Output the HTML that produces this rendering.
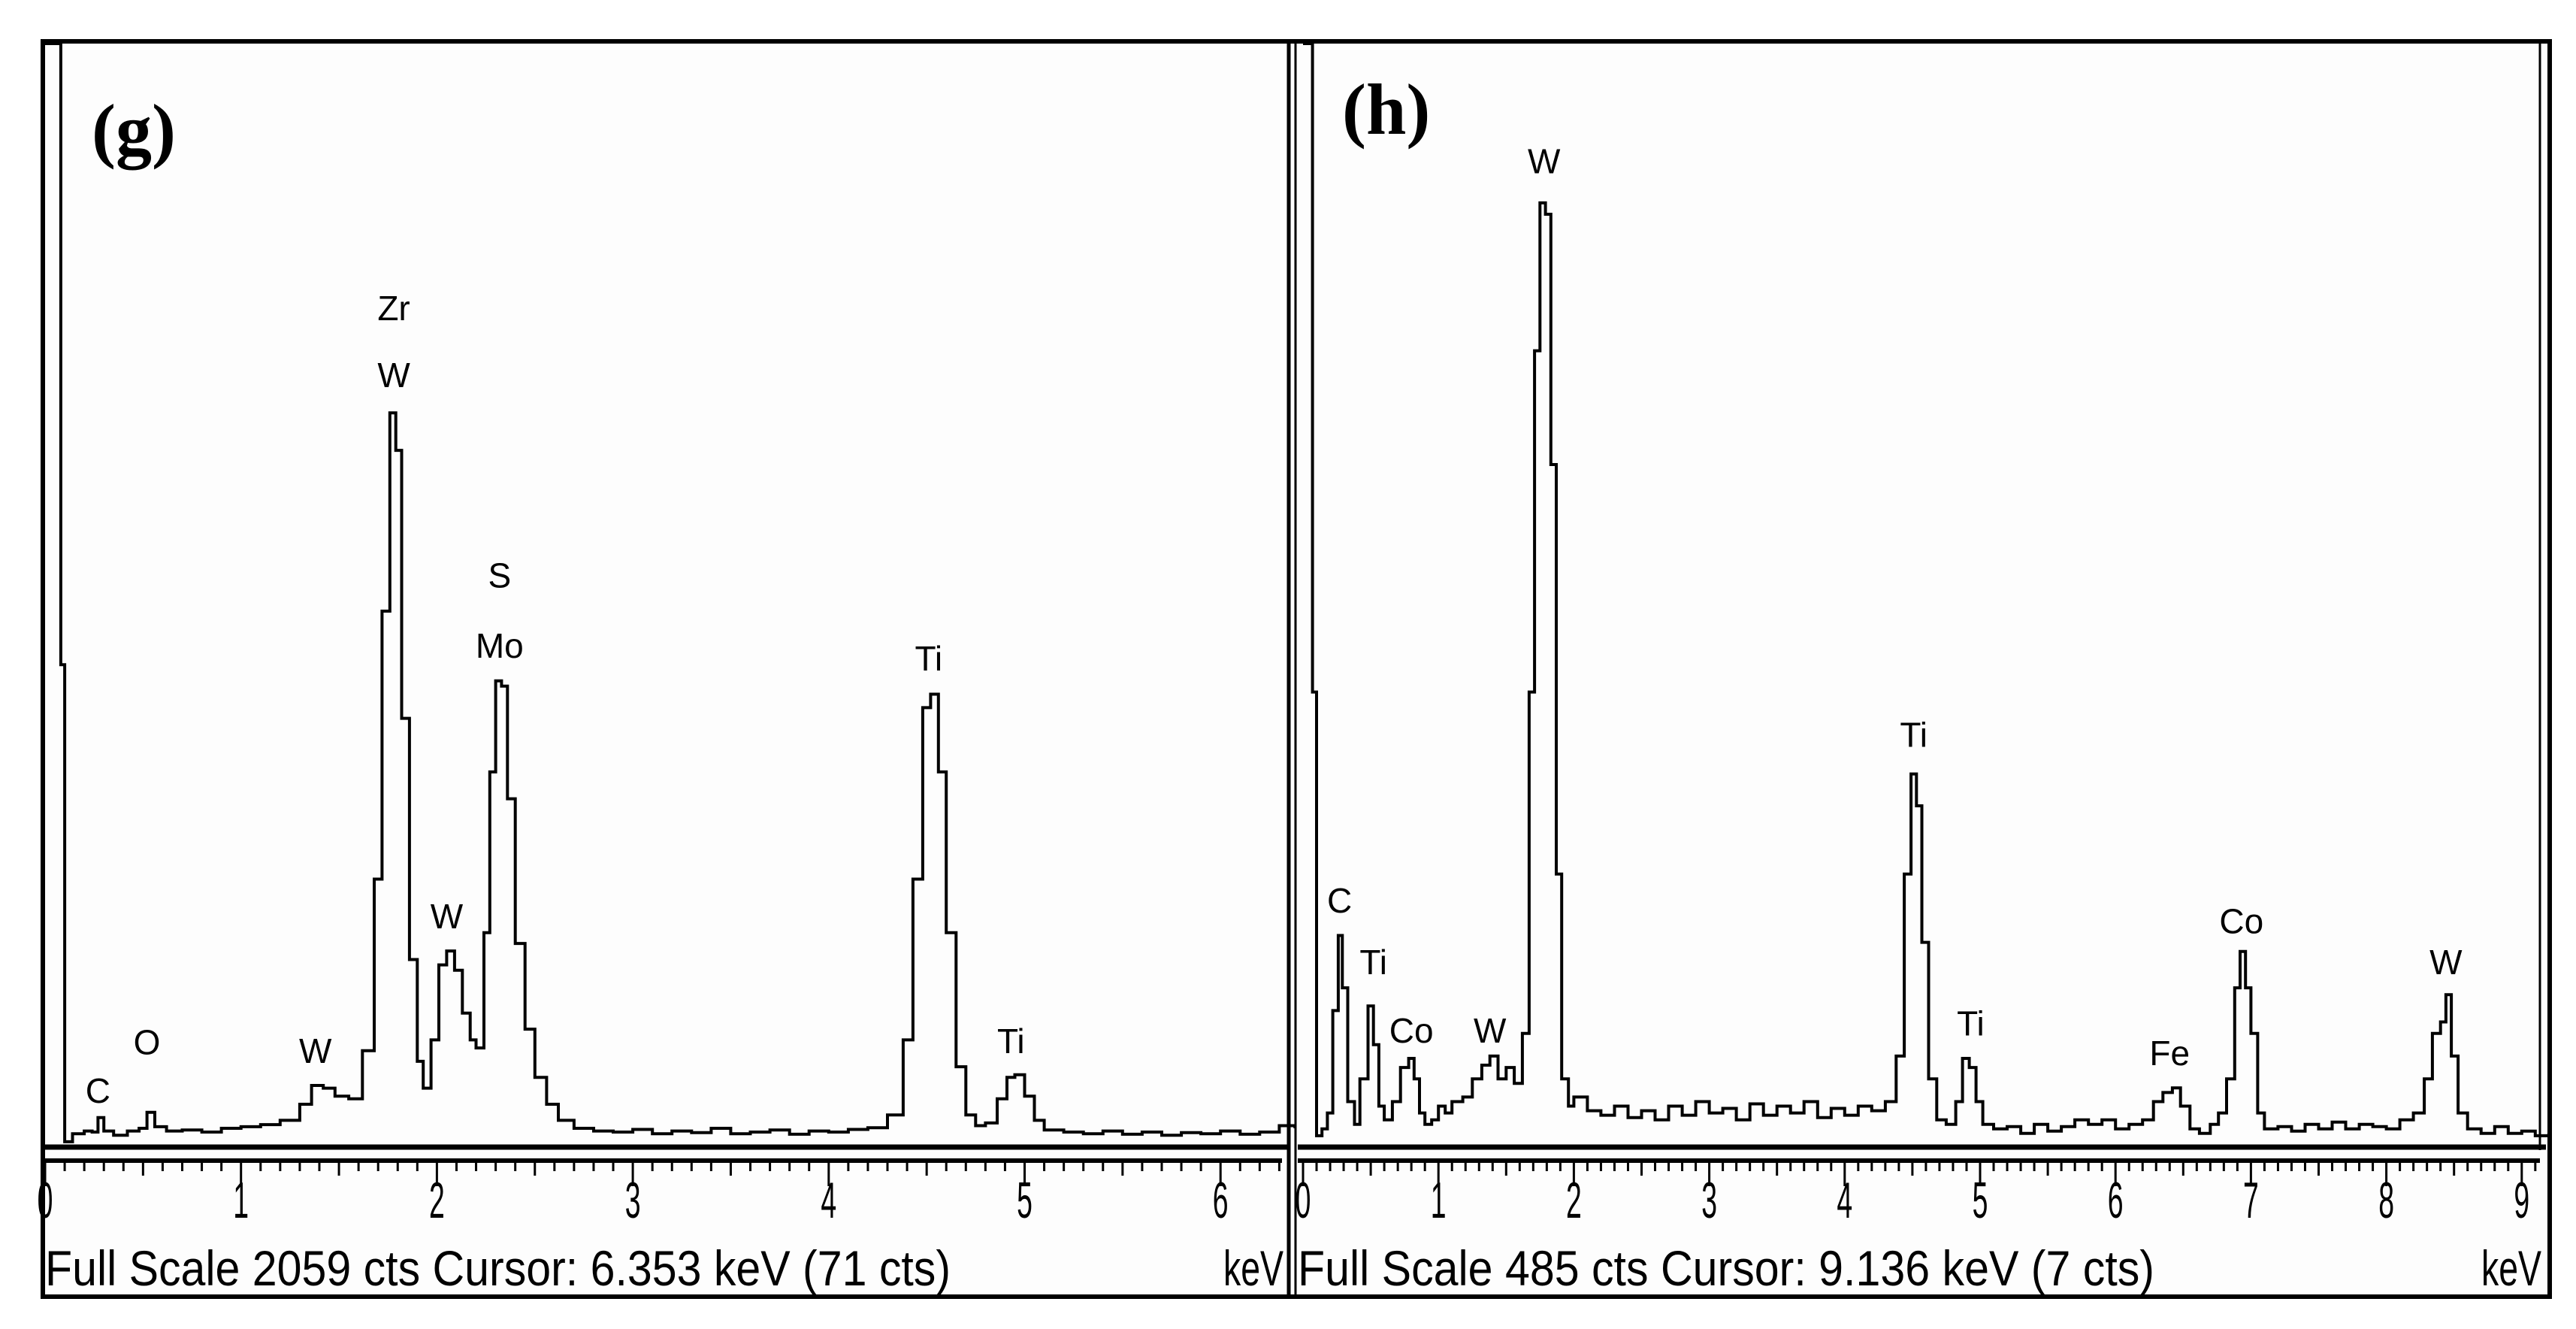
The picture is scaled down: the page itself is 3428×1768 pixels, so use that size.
<!DOCTYPE html>
<html><head><meta charset="utf-8"><style>
html,body{margin:0;padding:0;background:#fff}
svg{display:block}
text{font-family:"Liberation Sans",sans-serif;fill:#000}
</style></head><body>
<svg id="c" width="3428" height="1768" viewBox="0 0 3428 1768">
<rect x="0" y="0" width="3428" height="1768" fill="#fff"/>
<rect x="57" y="55" width="3336" height="1670" fill="#fdfdfd" stroke="#000" stroke-width="6"/>
<line x1="1715" y1="55" x2="1715" y2="1725" stroke="#000" stroke-width="5"/>
<line x1="1724" y1="55" x2="1724" y2="1725" stroke="#000" stroke-width="3"/>
<line x1="3380" y1="55" x2="3380" y2="1530" stroke="#000" stroke-width="3"/>
<text x="122" y="205" style="font-family:'Liberation Serif',serif;font-weight:bold;font-size:96px">(g)</text>
<text x="1786" y="178" style="font-family:'Liberation Serif',serif;font-weight:bold;font-size:96px">(h)</text>
<g id="gL"></g>
<g id="gR"></g>
</svg>
<script>
const energiesG=[0,0.06,0.08,0.1,0.14,0.2,0.24,0.27,0.3,0.35,0.42,0.48,0.52,0.56,0.62,0.7,0.8,0.9,1.0,1.1,1.2,1.3,1.36,1.42,1.48,1.55,1.62,1.68,1.72,1.76,1.79,1.82,1.86,1.9,1.93,1.97,2.01,2.05,2.09,2.13,2.17,2.2,2.24,2.27,2.3,2.33,2.36,2.4,2.45,2.5,2.56,2.62,2.7,2.8,2.9,3.0,3.1,3.2,3.3,3.4,3.5,3.6,3.7,3.8,3.9,4.0,4.1,4.2,4.3,4.38,4.43,4.48,4.52,4.56,4.6,4.65,4.7,4.75,4.8,4.86,4.91,4.95,5.0,5.05,5.1,5.2,5.3,5.4,5.5,5.6,5.7,5.8,5.9,6.0,6.1,6.2,6.3,6.38];
const countsG=[2059,2059,900,10,25,30,28,55,30,22,30,35,65,38,30,32,28,35,38,42,50,80,115,110,95,90,180,500,1000,1370,1300,800,350,160,110,200,340,366,330,250,200,185,400,700,870,860,650,380,220,130,80,50,35,30,28,33,25,30,27,35,25,28,32,24,30,28,33,36,60,200,500,820,845,700,400,150,60,40,45,90,130,135,95,50,32,28,25,30,24,28,22,27,25,30,24,28,40,35];
const energiesH=[0,0.05,0.07,0.1,0.14,0.18,0.22,0.26,0.29,0.33,0.38,0.42,0.48,0.52,0.56,0.6,0.66,0.72,0.78,0.82,0.86,0.9,0.95,1.0,1.05,1.1,1.18,1.25,1.32,1.38,1.44,1.5,1.56,1.62,1.67,1.71,1.75,1.79,1.83,1.87,1.91,1.96,2.0,2.1,2.2,2.3,2.4,2.5,2.6,2.7,2.8,2.9,3.0,3.1,3.2,3.3,3.4,3.5,3.6,3.7,3.8,3.9,4.0,4.1,4.2,4.3,4.38,4.44,4.49,4.53,4.57,4.62,4.68,4.75,4.82,4.87,4.92,4.97,5.02,5.1,5.2,5.3,5.4,5.5,5.6,5.7,5.8,5.9,6.0,6.1,6.2,6.28,6.35,6.42,6.48,6.55,6.62,6.7,6.76,6.82,6.88,6.92,6.96,7.0,7.05,7.1,7.2,7.3,7.4,7.5,7.6,7.7,7.8,7.9,8.0,8.1,8.2,8.28,8.34,8.4,8.44,8.48,8.53,8.6,8.7,8.8,8.9,9.0,9.1,9.2];
const countsH=[485,485,200,5,8,15,60,93,70,20,10,30,62,45,18,12,20,35,39,30,15,10,12,18,15,20,22,30,36,40,30,35,28,50,200,350,415,410,300,120,30,18,22,16,14,18,13,16,12,18,14,20,15,17,12,19,14,18,15,20,13,17,14,18,16,20,40,120,164,150,90,30,12,10,20,39,35,20,10,8,9,6,10,7,9,12,10,12,8,10,12,20,24,26,18,8,6,10,15,30,70,86,70,50,15,8,9,7,10,8,11,8,10,9,8,12,15,30,50,55,67,40,15,8,6,9,6,7,5,6];
const labelsG=["C","O","W","Zr","W","W","S","Mo","Ti","Ti"];
const labelEG=[0.27,0.52,1.38,1.78,1.78,2.05,2.32,2.32,4.51,4.93];
const labelCG=[83,173,157,1543,1418,408,1044,913,889,175];
const labelsH=["C","Ti","Co","W","W","Ti","Ti","Fe","Co","W"];
const labelEH=[0.27,0.52,0.8,1.38,1.78,4.51,4.93,6.4,6.93,8.44];
const labelCH=[103,76,46,46,428,176,49,36,94,76];
const ticksG=[0,1,2,3,4,5,6];
const ticksH=[0,1,2,3,4,5,6,7,8,9];
const NS='http://www.w3.org/2000/svg';
function mk(tag,attrs,parent){const e=document.createElementNS(NS,tag);for(const k in attrs)e.setAttribute(k,attrs[k]);parent.appendChild(e);return e;}
function panel(g,cfg,E,C,labs,labE,labC,ticks,footer){
  const xs=e=>cfg.x0+e*cfg.kx;
  const ys=c=>cfg.base-Math.min(c,cfg.full)/cfg.full*(cfg.base-cfg.top);
  let d='';
  for(let i=0;i<E.length;i++){const x=xs(E[i]),y=ys(C[i]);d+=(i?'L':'M')+x.toFixed(1)+' '+y.toFixed(1);if(i<E.length-1){d+='L'+xs(E[i+1]).toFixed(1)+' '+y.toFixed(1);}}
  const p=mk('path',{d:d,fill:'none',stroke:'#000','stroke-width':4},g);
  
  
  const ax=mk('line',{x1:cfg.left,y1:cfg.base,x2:cfg.right,y2:cfg.base,stroke:'#000','stroke-width':7},g);
  
  
  const ru=mk('line',{x1:cfg.left,y1:1544,x2:cfg.right-8,y2:1544,stroke:'#000','stroke-width':6},g);
  
  
  for(let k=0;k<=cfg.maxE*10;k++){const e=k/10,x=xs(e);if(x>cfg.right-8)break;
    const len=(k%10===0)?34:(k%5===0?20:14);
    const t=mk('line',{x1:x,y1:1544,x2:x,y2:1544+len,stroke:'#000','stroke-width':3},g);
    
    }
  ticks.forEach(v=>{const t=mk('text',{x:xs(v),y:1620,'text-anchor':'middle','font-size':68,transform:'translate('+xs(v)+' 0) scale(0.55 1) translate('+(-xs(v))+' 0)'},g);t.textContent=v;
    
    });
  const f=mk('text',{x:cfg.left,y:1710,'font-size':66,textLength:footer.w,lengthAdjust:'spacingAndGlyphs'},g);f.textContent=footer.t;
  
  
  const kv=mk('text',{x:cfg.right-6,y:1710,'font-size':66,'text-anchor':'end',textLength:80,lengthAdjust:'spacingAndGlyphs'},g);kv.textContent='keV';
  
  
  labs.forEach((s,i)=>{const t=mk('text',{x:xs(labE[i]),y:ys(labC[i]),'text-anchor':'middle','font-size':46},g);t.textContent=s;
    
    });
}
panel(document.getElementById('gL'),{x0:60,kx:260.7,base:1526,top:58,full:2059,left:60,right:1714,maxE:6.4},energiesG,countsG,labelsG,labelEG,labelCG,ticksG,{t:'Full Scale 2059 cts  Cursor: 6.353 keV (71 cts)',w:1205});
panel(document.getElementById('gR'),{x0:1734,kx:180.2,base:1526,top:58,full:485,left:1727,right:3388,maxE:9.2},energiesH,countsH,labelsH,labelEH,labelCH,ticksH,{t:'Full Scale 485 cts  Cursor: 9.136 keV (7 cts)',w:1140});
</script>
</body></html>
